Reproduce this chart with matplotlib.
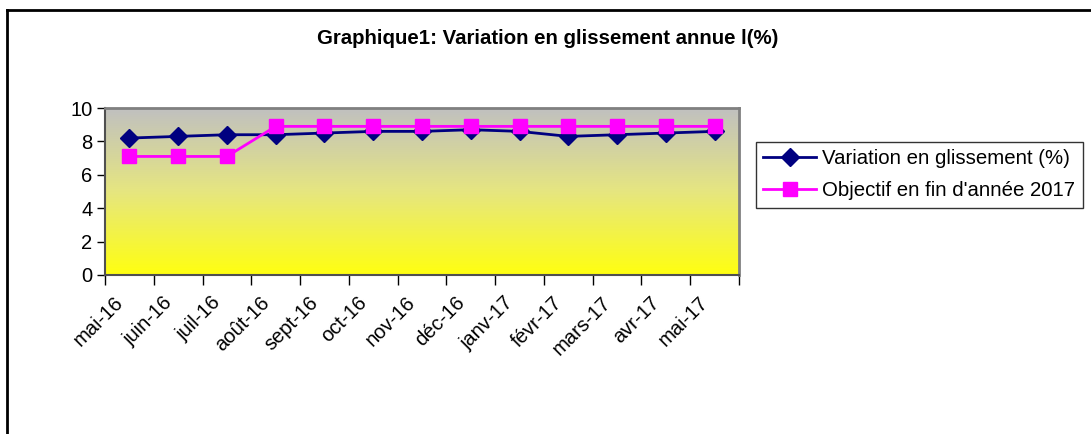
import numpy as np
import matplotlib
matplotlib.use("Agg")
import matplotlib.pyplot as plt
from matplotlib.colors import LinearSegmentedColormap
from matplotlib.lines import Line2D
import matplotlib.transforms as mtransforms

plt.rcParams['font.family'] = ['Liberation Sans', 'DejaVu Sans']

months = ['mai-16', 'juin-16', 'juil-16', 'août-16', 'sept-16', 'oct-16', 'nov-16',
          'déc-16', 'janv-17', 'févr-17', 'mars-17', 'avr-17', 'mai-17']
variation = [8.2, 8.3, 8.4, 8.4, 8.5, 8.6, 8.6, 8.7, 8.6, 8.3, 8.4, 8.5, 8.6]
objectif = [7.1, 7.1, 7.1, 8.9, 8.9, 8.9, 8.9, 8.9, 8.9, 8.9, 8.9, 8.9, 8.9]

W, H = 1091, 434
fig = plt.figure(figsize=(W / 100, H / 100), dpi=100)

# plot area in pixels: left 105, right 739, top 108, bottom 275
ax = fig.add_axes([105 / W, (H - 275) / H, 634 / W, 167 / H])

n = len(months)
x = np.arange(n) + 0.5

# gray -> yellow gradient background
cmap = LinearSegmentedColormap.from_list('bg', ['#ffff10', '#e6e680', '#c0c0c0'])
grad = np.linspace(0, 1, 256).reshape(-1, 1)
ax.imshow(grad, extent=[0, n, 0, 10], origin='lower', aspect='auto', cmap=cmap, zorder=0)

ax.plot(x, variation, color='#000080', lw=2, marker='D', ms=9, label='Variation en glissement (%)', zorder=3)
ax.plot(x, objectif, color='#ff00ff', lw=2, marker='s', ms=10.5, label="Objectif en fin d'année 2017", zorder=4)

ax.set_xlim(0, n)
ax.set_ylim(0, 10)
ax.set_yticks([0, 2, 4, 6, 8, 10])
ax.tick_params(axis='y', labelsize=14.5, length=6, width=1, color='black', pad=3)

ax.set_xticks(x)
ax.set_xticklabels(months, rotation=45, ha='right', va='top', rotation_mode='anchor')
ax.set_xticks(np.arange(n + 1), minor=True)
ax.tick_params(axis='x', which='major', length=0, labelsize=14.5, pad=13)
ax.tick_params(axis='x', which='minor', length=7, width=1, color='black')
offset = mtransforms.ScaledTranslation(-16 / 100, 0, fig.dpi_scale_trans)
for lab in ax.get_xticklabels():
    lab.set_transform(lab.get_transform() + offset)

for s in ['top', 'right']:
    ax.spines[s].set_color('#808080')
    ax.spines[s].set_linewidth(2)
for s in ['left', 'bottom']:
    ax.spines[s].set_color('#505050')
    ax.spines[s].set_linewidth(1.5)

fig.text(548 / W, 1 - 38 / H, 'Graphique1: Variation en glissement annue l(%)',
         ha='center', va='center', fontsize=14.7, fontweight='bold')

leg = ax.legend(loc='upper left', bbox_to_anchor=(756 / W, 1 - 142 / H), bbox_transform=fig.transFigure,
                frameon=True, fancybox=False, fontsize=14.7, handlelength=2.6, borderpad=0.35,
                labelspacing=0.65, handletextpad=0.3, borderaxespad=0)
leg.get_frame().set_edgecolor('black')
leg.get_frame().set_linewidth(1)

# outer chart frame (only left and top visible)
fig.add_artist(Line2D([7 / W, 7 / W], [0, 1 - 10 / H], color='black', lw=2, transform=fig.transFigure))
fig.add_artist(Line2D([7 / W, 1], [1 - 10 / H, 1 - 10 / H], color='black', lw=2, transform=fig.transFigure))

fig.savefig('out.png', dpi=100)
